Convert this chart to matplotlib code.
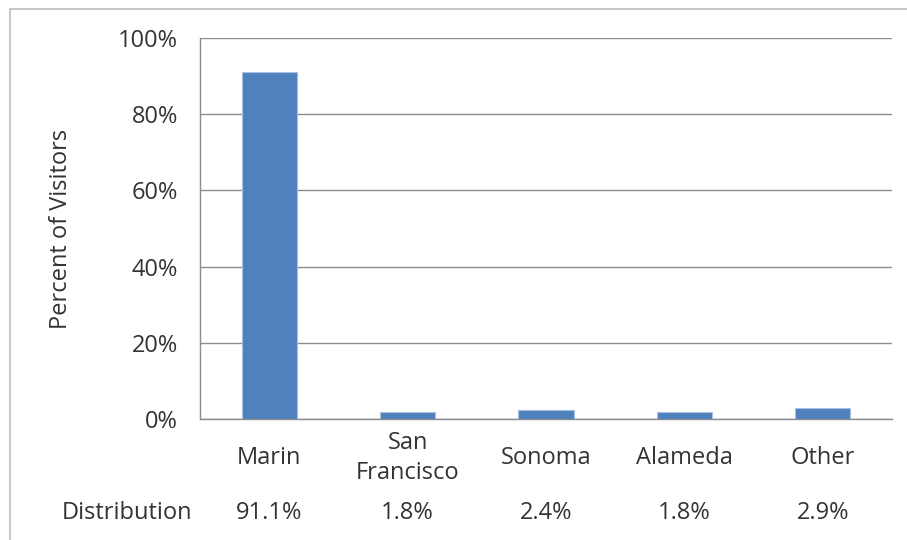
import matplotlib
matplotlib.use("Agg")
import matplotlib.pyplot as plt
from matplotlib.patches import Rectangle

categories = ["Marin", "San\nFrancisco", "Sonoma", "Alameda", "Other"]
values = [91.1, 1.8, 2.4, 1.8, 2.9]
dist_labels = ["91.1%", "1.8%", "2.4%", "1.8%", "2.9%"]
yticks = [0, 20, 40, 60, 80, 100]
ytick_labels = ["0%", "20%", "40%", "60%", "80%", "100%"]

plt.rcParams['font.family'] = ['Open Sans', 'DejaVu Sans']
txt = "#333333"
grid = "#8c8c8c"

fig = plt.figure(figsize=(9.07, 5.40), dpi=100)
fig.patch.set_facecolor("white")
fig.patches.append(Rectangle((10/907, -0.1), 1.2, 1 - 9/540 + 0.1, transform=fig.transFigure,
                             fill=False, edgecolor="#bdbdbd", linewidth=1.2))

ax = fig.add_axes([200/907, 1 - 419/540, 692/907, 381/540])
x = list(range(len(categories)))
ax.bar(x, values, width=0.4, color="#4F81BD", edgecolor="#a9c0e0", linewidth=0.8, zorder=3)
ax.set_xlim(-0.5, len(categories) - 0.5)
ax.set_ylim(0, 100)
ax.set_yticks(yticks)
ax.set_yticklabels(ytick_labels, fontsize=17, color=txt)
ax.set_xticks(x)
ax.set_xticklabels(categories, fontsize=17, color=txt, linespacing=1.3, va="center")
ax.tick_params(axis='y', length=0, pad=16)
ax.tick_params(axis='x', length=0, pad=28)
ax.yaxis.grid(True, color=grid, linewidth=1.0, zorder=0)
for s in ["right", "top"]:
    ax.spines[s].set_visible(False)
for s in ["left", "bottom"]:
    ax.spines[s].set_color(grid)
    ax.spines[s].set_linewidth(1.0)
ax.set_ylabel("Percent of Visitors", fontsize=17, color=txt)
ax.yaxis.set_label_coords(-(200 - 73) / 692, 0.5)

# distribution row
fig.text(192/907, 1 - 513/540, "Distribution", ha="right", va="center", fontsize=17, color=txt)
for i, lab in enumerate(dist_labels):
    ax.text(i, -(513 - 419) / 381, lab, transform=ax.get_xaxis_transform(),
            ha="center", va="center", fontsize=17, color=txt)

fig.savefig("out.png", dpi=100, facecolor="white")
